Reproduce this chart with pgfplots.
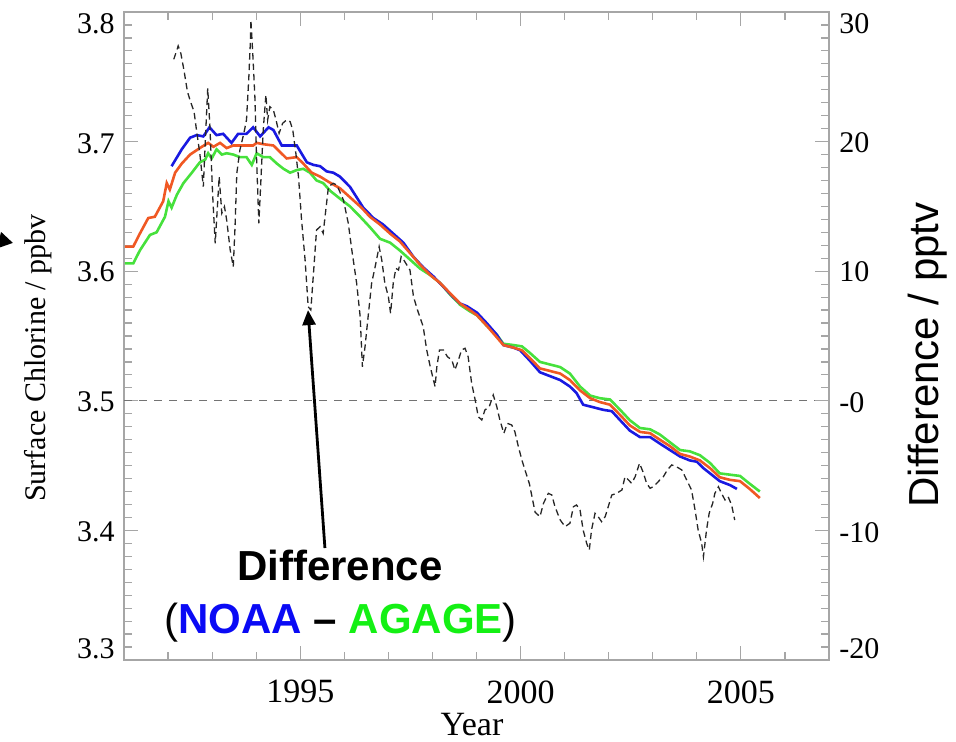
\documentclass[border=0pt]{standalone}
\usepackage{fontspec}
\setmainfont{Liberation Serif}
\newfontfamily\arial{Liberation Sans}
\usepackage{pgfplots}
\pgfplotsset{compat=1.18}
\usetikzlibrary{arrows.meta}

\definecolor{noaa}{RGB}{25,25,225}
\definecolor{meanline}{RGB}{240,88,35}
\definecolor{agage}{RGB}{70,225,60}
\definecolor{noaatext}{RGB}{10,10,245}
\definecolor{agagetext}{RGB}{20,240,20}

% tick label lifted by #1, with no height of its own
\newcommand{\lift}[2]{\raisebox{#1}[0pt][0pt]{#2}}

\begin{document}
\begin{tikzpicture}
\useasboundingbox (0,0) rectangle (478pt,371pt);
\pgfplotsset{
  chart/.style={
    at={(62pt,41pt)}, anchor=south west,
    scale only axis, width=352.5pt, height=324pt,
    xmin=1991, xmax=2007,
    tick align=inside,
    major tick length=7pt, minor tick length=4pt,
    every tick/.style={gray!70, line width=0.6pt},
    axis line style={gray!70, line width=0.7pt},
  },
}

% surface chlorine, left scale
\begin{axis}[chart, clip=false,
  ymin=3.3, ymax=3.8,
  ytick={3.3,3.4,3.5,3.6,3.7,3.8},
  yticklabels={\lift{0.9pt}{3.3},\lift{-5.7pt}{3.4},\lift{-5.2pt}{3.5},\lift{-5.4pt}{3.6},\lift{-5.9pt}{3.7},\lift{-10.6pt}{3.8}},
  minor ytick={3.31,3.32,...,3.795},
  ytick pos=left,
  xtick={1995,2000,2005},
  xticklabels={1995,2000,2005},
  minor xtick={1992,1993,1994,1996,1997,1998,1999,2001,2002,2003,2004,2006},
  xtick pos=both,
  yticklabel style={font=\fontsize{15}{18}\selectfont, anchor=east, inner sep=0pt, xshift=-4.5pt},
  xticklabel style={font=\fontsize{17}{20}\selectfont, anchor=north, inner sep=0pt, yshift=-10pt},
  xlabel={Year},
  ylabel={Surface Chlorine / ppbv},
  every axis x label/.style={at={(axis description cs:0.4936,-0.1003)}, anchor=center, font=\fontsize{17}{20}\selectfont},
  every axis y label/.style={at={(axis description cs:-0.1220,0.466)}, rotate=90, anchor=center, font=\fontsize{15}{18}\selectfont},
]
\addplot[black!55, line width=0.5pt, dash pattern=on 4.2pt off 3.3pt] coordinates {(1991,3.5) (2007,3.5)};

% AGAGE
\addplot[agage, line width=1.3pt] table {
x y
1991.02 3.606
1991.21 3.606
1991.36 3.616
1991.59 3.628
1991.74 3.630
1991.93 3.642
1992.01 3.654
1992.08 3.649
1992.20 3.659
1992.35 3.668
1992.54 3.676
1992.72 3.684
1992.84 3.686
1992.91 3.691
1992.99 3.687
1993.10 3.694
1993.22 3.690
1993.33 3.691
1993.48 3.690
1993.63 3.688
1993.78 3.688
1993.90 3.682
1994.01 3.691
1994.16 3.688
1994.31 3.688
1994.47 3.683
1994.62 3.679
1994.77 3.676
1994.92 3.678
1995.07 3.679
1995.22 3.676
1995.37 3.670
1995.52 3.668
1995.68 3.662
1995.90 3.656
1996.13 3.650
1996.36 3.642
1996.58 3.634
1996.81 3.625
1997.04 3.622
1997.26 3.616
1997.49 3.609
1997.72 3.602
1997.95 3.597
1998.17 3.591
1998.40 3.582
1998.63 3.574
1998.85 3.569
1999.01 3.566
1999.23 3.558
1999.46 3.551
1999.61 3.544
1999.84 3.543
2000.03 3.542
2000.21 3.537
2000.44 3.530
2000.67 3.528
2000.90 3.526
2001.12 3.521
2001.35 3.511
2001.58 3.504
2001.80 3.502
2002.03 3.501
2002.26 3.493
2002.48 3.485
2002.71 3.479
2002.94 3.478
2003.16 3.474
2003.39 3.468
2003.62 3.462
2003.84 3.461
2004.07 3.458
2004.30 3.452
2004.52 3.444
2004.75 3.443
2004.98 3.442
2005.20 3.436
2005.43 3.430
};

% NOAA
\addplot[noaa, line width=1.3pt] table {
x y
1992.08 3.681
1992.31 3.694
1992.50 3.703
1992.65 3.705
1992.80 3.704
1992.94 3.711
1993.10 3.705
1993.25 3.706
1993.44 3.699
1993.59 3.706
1993.78 3.706
1993.93 3.711
1994.09 3.704
1994.28 3.711
1994.39 3.709
1994.58 3.697
1994.77 3.697
1994.92 3.697
1995.15 3.684
1995.30 3.682
1995.45 3.681
1995.60 3.677
1995.75 3.676
1995.90 3.673
1996.13 3.665
1996.28 3.657
1996.43 3.649
1996.66 3.641
1996.88 3.636
1997.11 3.629
1997.34 3.622
1997.57 3.611
1997.79 3.603
1998.02 3.596
1998.25 3.588
1998.47 3.580
1998.63 3.575
1998.78 3.573
1999.01 3.568
1999.23 3.560
1999.46 3.551
1999.61 3.543
1999.84 3.541
1999.99 3.539
2000.21 3.531
2000.44 3.522
2000.67 3.519
2000.90 3.516
2001.12 3.511
2001.27 3.506
2001.42 3.497
2001.65 3.495
2001.88 3.493
2002.07 3.492
2002.26 3.485
2002.48 3.477
2002.71 3.472
2002.94 3.472
2003.16 3.467
2003.39 3.462
2003.62 3.457
2003.84 3.454
2004.00 3.453
2004.15 3.448
2004.30 3.444
2004.52 3.438
2004.75 3.435
2004.91 3.432
};

% mean of the two networks
\addplot[meanline, line width=1.3pt] table {
x y
1991.02 3.619
1991.21 3.619
1991.36 3.629
1991.55 3.641
1991.70 3.642
1991.89 3.654
1991.97 3.668
1992.04 3.663
1992.16 3.676
1992.31 3.683
1992.50 3.690
1992.72 3.695
1992.91 3.699
1993.03 3.696
1993.18 3.699
1993.33 3.695
1993.48 3.697
1993.78 3.697
1993.93 3.697
1994.01 3.699
1994.16 3.698
1994.39 3.697
1994.54 3.692
1994.69 3.687
1994.92 3.688
1995.07 3.683
1995.26 3.676
1995.45 3.673
1995.64 3.669
1995.90 3.664
1996.13 3.657
1996.39 3.649
1996.58 3.642
1996.81 3.636
1997.04 3.629
1997.26 3.623
1997.49 3.614
1997.72 3.605
1997.95 3.597
1998.17 3.591
1998.40 3.583
1998.63 3.575
1998.85 3.570
1999.01 3.566
1999.23 3.558
1999.46 3.549
1999.61 3.543
1999.84 3.541
2000.03 3.539
2000.21 3.533
2000.44 3.525
2000.67 3.523
2000.90 3.521
2001.12 3.516
2001.35 3.508
2001.58 3.502
2001.80 3.499
2002.03 3.497
2002.26 3.489
2002.48 3.481
2002.71 3.476
2002.94 3.475
2003.16 3.470
2003.39 3.465
2003.62 3.459
2003.84 3.457
2004.07 3.454
2004.30 3.448
2004.52 3.441
2004.75 3.439
2004.98 3.438
2005.20 3.432
2005.43 3.425
};

\node[font=\arial\bfseries\fontsize{21}{24}\selectfont, anchor=base] at (axis cs:1995.90,3.3617) {Difference};
\node[font=\arial\fontsize{21}{24}\selectfont, anchor=base] at (axis cs:1995.92,3.3208)
  {(\textbf{\color{noaatext}NOAA} \textbf{–} \textbf{\color{agagetext}AGAGE})};
\draw[line width=1.4pt, -{Triangle[length=7.5pt,width=6.5pt]}]
  (axis cs:1995.56,3.3864) -- (axis cs:1995.176,3.570);
\draw[line width=1.4pt, -{Triangle[length=7pt,width=8pt]}]
  (axis cs:1987.73,3.6272) -- (axis cs:1988.48,3.6218);
\end{axis}

% NOAA minus AGAGE, right scale
\begin{axis}[chart,
  axis y line*=right, axis x line=none,
  ymin=-20, ymax=30,
  ytick={-20,-10,0,10,20,30},
  yticklabels={\lift{0.9pt}{-20},\lift{-5.9pt}{-10},\lift{-5.7pt}{-0},\lift{-5.4pt}{10},\lift{-5.5pt}{20},\lift{-10.6pt}{30}},
  minor ytick={-19,-18,...,29},
  yticklabel style={font=\fontsize{15}{18}\selectfont, anchor=west, inner sep=0pt, xshift=5pt},
  ylabel={\arial Difference / pptv},
  every axis y label/.style={at={(axis description cs:1.1404,0.4707)}, rotate=90, anchor=center, font=\fontsize{21}{24}\selectfont},
]
\addplot[black!85, line width=0.65pt, dash pattern=on 3.2pt off 2pt] table {
x y
1992.13 26.35
1992.23 27.38
1992.29 26.81
1992.36 25.52
1992.44 23.85
1992.51 23.08
1992.59 22.31
1992.65 20.76
1992.72 19.10
1992.80 16.52
1992.86 21.15
1992.90 24.11
1992.95 21.15
1993.01 16.01
1993.07 12.15
1993.12 14.98
1993.16 17.29
1993.22 14.47
1993.28 14.98
1993.33 13.95
1993.41 11.64
1993.48 10.35
1993.52 13.43
1993.56 17.55
1993.63 19.35
1993.72 20.64
1993.78 21.67
1993.83 24.75
1993.87 27.84
1993.88 29.38
1993.93 26.30
1993.97 23.47
1994.01 18.58
1994.06 13.70
1994.10 16.52
1994.16 20.90
1994.22 23.60
1994.26 21.67
1994.31 22.69
1994.39 22.44
1994.45 21.67
1994.52 20.64
1994.60 21.41
1994.69 21.67
1994.77 21.54
1994.83 20.90
1994.90 19.10
1994.96 17.29
1995.03 13.95
1995.11 10.86
1995.18 7.26
1995.24 7.01
1995.30 9.84
1995.37 13.18
1995.45 13.43
1995.52 12.92
1995.64 16.52
1995.75 16.78
1995.83 16.65
1995.98 15.49
1996.09 13.70
1996.17 11.64
1996.28 9.07
1996.36 6.49
1996.41 2.63
1996.47 4.17
1996.54 6.49
1996.62 9.07
1996.70 10.35
1996.79 11.89
1996.85 10.86
1996.92 9.07
1997.00 8.03
1997.05 6.75
1997.11 9.07
1997.17 10.22
1997.23 10.09
1997.29 11.12
1997.35 10.86
1997.49 10.09
1997.57 8.03
1997.66 7.01
1997.79 5.72
1997.87 3.92
1997.95 2.63
1998.06 1.09
1998.10 2.63
1998.16 3.92
1998.25 3.92
1998.34 3.40
1998.44 3.15
1998.51 2.38
1998.59 3.15
1998.66 3.92
1998.74 4.05
1998.81 3.40
1998.89 1.35
1998.97 0.06
1999.04 -1.23
1999.12 -1.48
1999.19 -0.71
1999.29 -0.45
1999.38 0.45
1999.46 -0.45
1999.53 -1.48
1999.62 -2.51
1999.70 -1.74
1999.80 -1.87
1999.87 -2.38
1999.95 -3.54
2000.03 -4.57
2000.10 -5.34
2000.20 -6.40
2000.33 -8.60
2000.44 -8.94
2000.52 -7.91
2000.63 -7.14
2000.71 -7.27
2000.78 -8.17
2000.90 -9.20
2001.01 -9.71
2001.12 -9.45
2001.20 -8.17
2001.27 -8.04
2001.35 -8.43
2001.42 -9.97
2001.50 -11.00
2001.56 -11.51
2001.61 -9.97
2001.69 -8.68
2001.76 -8.94
2001.84 -9.33
2001.92 -8.94
2001.99 -8.17
2002.07 -7.27
2002.18 -7.14
2002.30 -6.88
2002.37 -5.86
2002.45 -6.11
2002.52 -6.37
2002.60 -5.86
2002.70 -4.82
2002.79 -5.59
2002.86 -6.37
2002.94 -6.75
2003.01 -6.63
2003.09 -6.37
2003.16 -6.11
2003.24 -5.86
2003.33 -5.34
2003.43 -4.95
2003.54 -5.09
2003.66 -5.34
2003.77 -6.11
2003.88 -6.88
2003.96 -8.43
2004.03 -9.97
2004.11 -11.00
2004.15 -12.03
2004.22 -9.97
2004.28 -8.68
2004.36 -7.91
2004.41 -7.14
2004.49 -6.63
2004.56 -7.14
2004.64 -7.65
2004.71 -7.40
2004.79 -8.04
2004.86 -9.20
};
\end{axis}
\end{tikzpicture}
\end{document}
